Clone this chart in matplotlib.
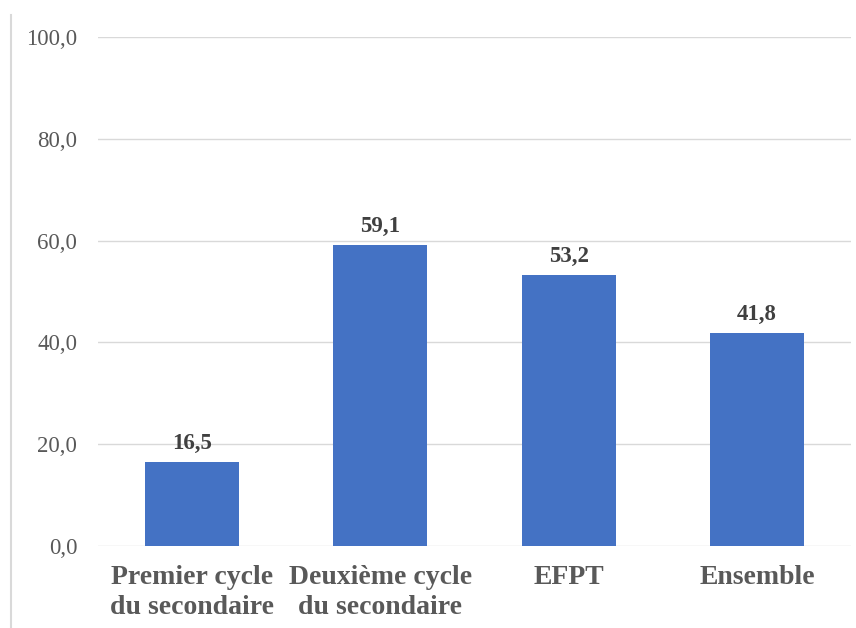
import matplotlib
matplotlib.use("Agg")
import matplotlib.pyplot as plt
from matplotlib.lines import Line2D

categories = ["Premier cycle\ndu secondaire", "Deuxième cycle\ndu secondaire", "EFPT", "Ensemble"]
values = [16.5, 59.1, 53.2, 41.8]
yticks = [0, 20, 40, 60, 80, 100]

plt.rcParams['font.family'] = ['Liberation Serif', 'DejaVu Serif']

fig = plt.figure(figsize=(8.56, 6.28), dpi=100)
ax = fig.add_axes([98/856, 1-546/628, (851-98)/856, (546-37)/628])

x = range(len(categories))
ax.bar(x, values, width=0.5, color="#4472C4", zorder=3)
ax.set_xlim(-0.5, len(categories)-0.5)
ax.set_ylim(0, 100)
ax.set_yticks(yticks)
ax.set_yticklabels([f"{v:.1f}".replace(".", ",") for v in yticks], fontsize=16.5, color="#595959")
ax.set_xticks(list(x))
ax.set_xticklabels(categories, fontsize=20, fontweight="bold", color="#595959", linespacing=1.25)
ax.tick_params(axis="both", length=0)
ax.tick_params(axis="y", pad=15)
ax.tick_params(axis="x", pad=14)
ax.grid(axis="y", color="#D9D9D9", linewidth=1, zorder=0)
for s in ax.spines.values():
    s.set_visible(False)

for i, v in enumerate(values):
    ax.annotate(f"{v:.1f}".replace(".", ","), (i, v), xytext=(0, 6), textcoords="offset points",
                ha="center", va="bottom", fontsize=16.5, fontweight="bold", color="#404040")

fig.add_artist(Line2D([11/856, 11/856], [0, 1-15/628], transform=fig.transFigure, color="#D9D9D9", linewidth=1.5))

fig.savefig("out.png", dpi=100)
